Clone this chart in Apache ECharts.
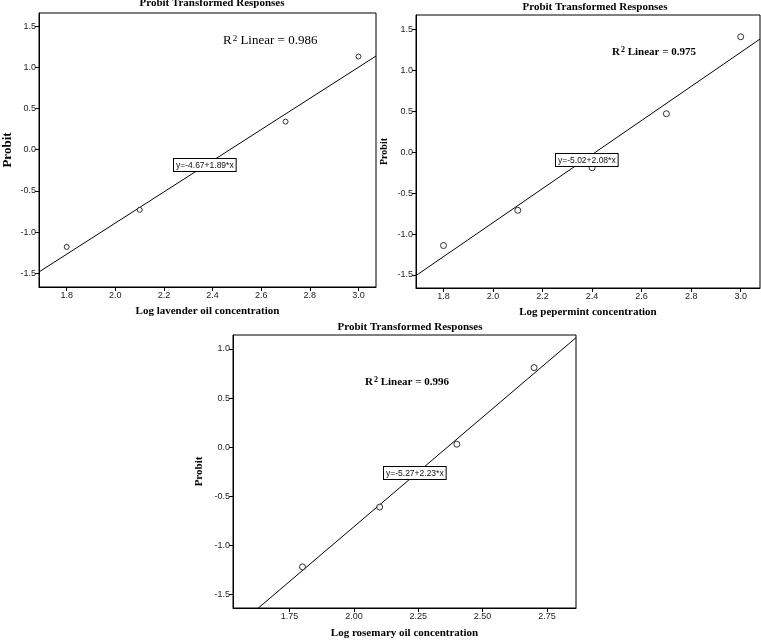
<!DOCTYPE html>
<html>
<head>
<meta charset="utf-8">
<script src="https://cdn.jsdelivr.net/npm/echarts@6/dist/echarts.min.js"></script>
<style>
  html, body { margin: 0; padding: 0; background: #fff; }
  #chart { width: 761px; height: 640px; }
</style>
</head>
<body>
<div id="chart"></div>
<script>
// dose (log concentration) and probit values
const lavX = [1.8, 2.1, 2.7, 3.0]
const lavY = [-1.18, -0.73, 0.34, 1.13]
const pepX = [1.8, 2.1, 2.4, 2.7, 3.0]
const pepY = [-1.14, -0.71, -0.19, 0.47, 1.41]
const rosX = [1.8, 2.1, 2.4, 2.7]
const rosY = [-1.22, -0.61, 0.03, 0.81]

// fitted lines [intercept, slope] and R squared
const lavFit = [-4.67, 1.89]
const pepFit = [-5.02, 2.08]
const rosFit = [-5.27, 2.23]
const r2 = ['0.986', '0.975', '0.996']

// tick labels
const topXTicks = [1.8, 2.0, 2.2, 2.4, 2.6, 2.8, 3.0]
const topYTicks = [-1.5, -1.0, -0.5, 0.0, 0.5, 1.0, 1.5]
const rosXTicks = [1.75, 2.0, 2.25, 2.5, 2.75]
const rosYTicks = [-1.5, -1.0, -0.5, 0.0, 0.5, 1.0]

const xNames = ['Log lavender oil concentration', 'Log pepermint concentration', 'Log rosemary oil concentration']

const ranges = [
  { x: [1.686, 3.072], y: [-1.666, 1.658] },
  { x: [1.689, 3.078], y: [-1.659, 1.676] },
  { x: [1.53, 2.863], y: [-1.638, 1.142] }
]

const serif = '"Liberation Serif", "DejaVu Serif", serif'
const sans = '"Liberation Sans", Arial, sans-serif'

function pts (xs, ys) {
  return xs.map((x, i) => [x, ys[i]])
}
function fitLine (fit, r) {
  return r.x.map(x => [x, fit[0] + fit[1] * x])
}

function xAxis (i, ticks, digits, gap) {
  return {
    type: 'value',
    gridIndex: i,
    min: ranges[i].x[0],
    max: ranges[i].x[1],
    name: xNames[i],
    nameLocation: 'middle',
    nameGap: gap,
    nameTextStyle: { fontFamily: serif, fontWeight: 'bold', fontSize: 11, color: '#000' },
    axisLine: { show: true, onZero: false, lineStyle: { color: '#000', width: 1 } },
    axisTick: { show: true, length: 4, customValues: ticks, lineStyle: { color: '#000' } },
    axisLabel: {
      customValues: ticks,
      margin: 4,
      fontFamily: sans,
      fontSize: 9,
      color: '#222',
      formatter: v => Number(v).toFixed(digits)
    },
    splitLine: { show: false }
  }
}

function yAxis (i, ticks, nameSize, gap) {
  return {
    type: 'value',
    gridIndex: i,
    min: ranges[i].y[0],
    max: ranges[i].y[1],
    name: 'Probit',
    nameLocation: 'middle',
    nameGap: gap,
    nameTextStyle: { fontFamily: serif, fontWeight: 'bold', fontSize: nameSize, color: '#000' },
    axisLine: { show: true, onZero: false, lineStyle: { color: '#000', width: 1 } },
    axisTick: { show: true, length: 4, customValues: ticks, lineStyle: { color: '#000' } },
    axisLabel: {
      customValues: ticks,
      margin: 3,
      fontFamily: sans,
      fontSize: 9,
      color: '#222',
      formatter: v => Number(v).toFixed(1)
    },
    splitLine: { show: false }
  }
}

function scatter (i, data, size) {
  return {
    type: 'scatter',
    xAxisIndex: i,
    yAxisIndex: i,
    data: data,
    symbol: 'circle',
    symbolSize: size,
    itemStyle: { color: '#fff', borderColor: '#000', borderWidth: 1 },
    z: 3
  }
}

function line (i, data) {
  return {
    type: 'line',
    xAxisIndex: i,
    yAxisIndex: i,
    data: data,
    showSymbol: false,
    clip: true,
    lineStyle: { color: '#000', width: 1 },
    z: 2
  }
}

function title (x, y) {
  return {
    type: 'text',
    x: x,
    y: y,
    style: {
      text: 'Probit Transformed Responses',
      font: 'bold 11px ' + serif,
      fill: '#000',
      align: 'center',
      verticalAlign: 'middle'
    }
  }
}

function r2Text (x, y, val, size, weight) {
  return {
    type: 'text',
    x: x,
    y: y,
    style: {
      text: '{a|R}{s|2}{a| Linear = ' + val + '}',
      verticalAlign: 'middle',
      rich: {
        a: { fontFamily: serif, fontSize: size, fontWeight: weight, color: '#000' },
        s: { fontFamily: serif, fontSize: Math.round(size * 0.7), fontWeight: weight, color: '#000', verticalAlign: 'top', padding: [0, 0, 5, 1] }
      }
    }
  }
}

function eqBox (x, y, fit) {
  return {
    type: 'text',
    x: x,
    y: y,
    z: 10,
    style: {
      text: 'y=' + fit[0].toFixed(2) + '+' + fit[1].toFixed(2) + '*x',
      font: '8.5px ' + sans,
      fill: '#111',
      backgroundColor: '#fff',
      borderColor: '#000',
      borderWidth: 1,
      padding: [2, 2, 1, 2]
    }
  }
}

const chart = echarts.init(document.getElementById('chart'))
chart.setOption({
  animation: false,
  backgroundColor: '#fff',
  grid: [
    { left: 36, top: 13, width: 340, height: 274, show: true, borderColor: '#000', borderWidth: 1 },
    { left: 416, top: 15, width: 344, height: 273, show: true, borderColor: '#000', borderWidth: 1 },
    { left: 233, top: 335, width: 343, height: 274, show: true, borderColor: '#000', borderWidth: 1 }
  ],
  xAxis: [
    xAxis(0, topXTicks, 1, 19),
    xAxis(1, topXTicks, 1, 19),
    xAxis(2, rosXTicks, 2, 20)
  ],
  yAxis: [
    yAxis(0, topYTicks, 13, 25),
    yAxis(1, topYTicks, 10, 27),
    yAxis(2, rosYTicks, 11, 28)
  ],
  series: [
    line(0, fitLine(lavFit, ranges[0])),
    scatter(0, pts(lavX, lavY), 5),
    line(1, fitLine(pepFit, ranges[1])),
    scatter(1, pts(pepX, pepY), 6),
    line(2, fitLine(rosFit, ranges[2])),
    scatter(2, pts(rosX, rosY), 6)
  ],
  graphic: [
    title(212, 3),
    title(595, 7.5),
    title(410, 327.5),
    r2Text(223, 41, r2[0], 13, 'normal'),
    r2Text(612, 52, r2[1], 11, 'bold'),
    r2Text(365, 382, r2[2], 11, 'bold'),
    eqBox(174, 159, lavFit),
    eqBox(556, 154, pepFit),
    eqBox(384, 467, rosFit)
  ]
})
</script>
</body>
</html>
